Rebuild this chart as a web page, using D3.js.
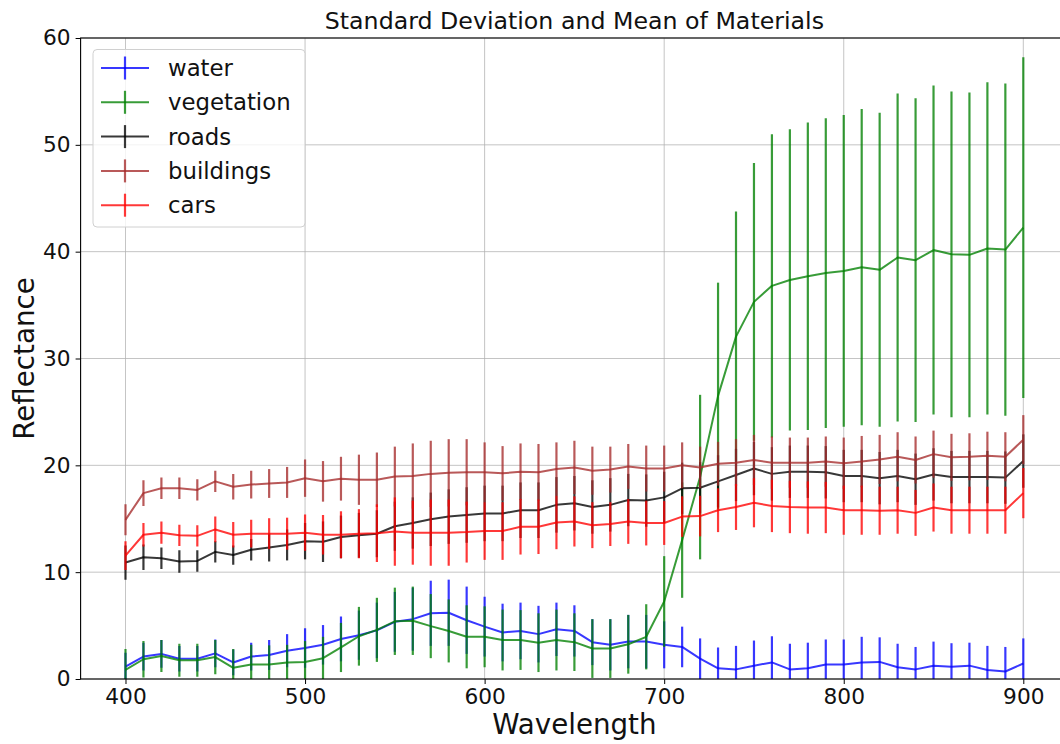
<!DOCTYPE html>
<html>
<head>
<meta charset="utf-8">
<script src="https://cdn.jsdelivr.net/npm/d3@7"></script>
<style>
  html, body { margin: 0; padding: 0; background: #fff; }
  svg { display: block; font-family: "DejaVu Sans", sans-serif; }
</style>
</head>
<body>
<svg id="chart" width="1060" height="744"></svg>
<script>
// Wavelength samples (nm)
const wavelengths = [400,410,420,430,440,450,460,470,480,490,500,510,520,530,540,550,560,570,580,590,600,
  610,620,630,640,650,660,670,680,690,700,710,720,730,740,750,760,770,780,790,800,
  810,820,830,840,850,860,870,880,890,900];

// Mean reflectance per material
const waterMean = [1.15,2.1,2.35,1.9,1.9,2.4,1.55,2.1,2.25,2.65,2.9,3.2,3.75,4.1,4.55,5.35,5.6,6.15,6.2,5.5,4.9,
  4.35,4.5,4.2,4.65,4.5,3.45,3.2,3.5,3.5,3.2,3.0,1.9,1.0,0.9,1.25,1.55,0.9,1.0,1.35,1.35,
  1.55,1.6,1.1,0.9,1.25,1.15,1.25,0.85,0.7,1.45];
const vegetationMean = [0.85,1.85,2.15,1.75,1.75,2.05,1.05,1.35,1.35,1.55,1.6,1.95,2.95,4.0,4.6,5.4,5.45,4.95,4.5,3.95,3.95,
  3.65,3.65,3.4,3.65,3.45,2.85,2.85,3.25,3.95,7.25,13.0,18.9,26.5,32.05,35.3,36.8,37.35,37.7,38.0,38.2,
  38.55,38.3,39.45,39.2,40.15,39.75,39.7,40.3,40.2,42.25];
const roadsMean = [10.9,11.4,11.3,11.0,11.05,11.9,11.6,12.1,12.3,12.55,12.9,12.85,13.3,13.45,13.6,14.3,14.6,14.95,15.2,15.35,15.5,
  15.5,15.8,15.8,16.3,16.45,16.1,16.3,16.75,16.7,17.0,17.85,17.9,18.5,19.1,19.7,19.2,19.4,19.4,19.35,19.0,
  19.0,18.8,19.0,18.7,19.15,18.9,18.9,18.9,18.85,20.4];
const buildingsMean = [14.9,17.4,17.85,17.85,17.7,18.5,18.0,18.2,18.3,18.4,18.8,18.5,18.75,18.65,18.65,18.95,19.0,19.2,19.3,19.35,19.35,
  19.25,19.4,19.35,19.65,19.8,19.5,19.6,19.9,19.7,19.7,20.0,19.8,20.15,20.25,20.5,20.25,20.25,20.25,20.35,20.2,
  20.35,20.55,20.8,20.5,21.05,20.75,20.8,20.9,20.8,22.4];
const carsMean = [11.55,13.5,13.7,13.45,13.4,14.0,13.5,13.6,13.6,13.6,13.7,13.5,13.5,13.6,13.65,13.8,13.7,13.7,13.7,13.75,13.85,
  13.85,14.25,14.25,14.65,14.75,14.4,14.5,14.75,14.6,14.6,15.2,15.25,15.8,16.1,16.5,16.2,16.1,16.05,16.05,15.8,
  15.8,15.75,15.8,15.55,16.05,15.8,15.8,15.8,15.8,17.4];

// Standard deviation per material
const waterStd = [1.3,1.3,1.3,1.2,1.2,1.3,1.2,1.3,1.4,1.55,1.85,1.85,2.1,2.3,2.6,2.8,2.95,3.05,3.1,3.15,2.8,
  2.7,2.65,2.65,2.5,2.4,2.15,2.4,2.5,2.5,2.2,1.9,1.9,1.95,2.2,2.35,2.45,2.4,2.4,2.35,2.35,
  2.4,2.3,2.2,2.1,2.25,2.2,2.15,2.25,2.3,2.35];
const vegetationStd = [1.95,1.7,1.5,1.55,1.55,1.6,1.75,1.85,1.8,1.65,1.95,2.0,2.3,2.75,3.0,3.15,3.2,3.0,2.95,2.95,2.85,
  2.85,2.8,2.75,2.85,2.7,2.75,2.75,2.75,3.05,4.25,5.4,7.7,10.6,11.7,13.0,14.2,14.1,14.4,14.5,14.6,
  14.8,14.7,15.35,15.15,15.4,15.25,15.2,15.55,15.55,15.95];
const roadsStd = [1.6,1.2,1.0,1.05,1.0,1.0,0.9,1.0,1.3,1.45,1.7,1.9,2.0,2.1,2.2,2.3,2.4,2.5,2.55,2.6,2.6,
  2.6,2.6,2.6,2.6,2.55,2.5,2.5,2.45,2.45,2.4,2.4,2.4,2.45,2.45,2.5,2.5,2.45,2.45,2.45,2.45,
  2.45,2.45,2.45,2.4,2.45,2.45,2.45,2.45,2.45,2.5];
const buildingsStd = [1.45,1.2,1.0,1.0,1.0,1.0,1.2,1.3,1.35,1.45,1.75,1.9,2.05,2.35,2.55,2.8,3.05,3.1,3.15,3.1,2.8,
  2.55,2.65,2.65,2.5,2.5,2.25,2.15,2.1,2.15,2.15,2.15,1.95,2.05,2.2,2.35,2.45,2.35,2.35,2.35,2.4,
  2.4,2.3,2.3,2.2,2.2,2.2,2.2,2.25,2.3,2.3];
const carsStd = [1.35,1.1,1.05,1.0,1.0,1.2,1.2,1.3,1.45,1.5,1.7,1.85,2.2,2.3,2.7,3.2,3.0,3.1,3.1,2.85,2.7,
  2.7,2.6,2.55,2.5,2.35,2.15,2.05,2.1,2.1,2.05,1.9,1.9,2.05,2.15,2.3,2.45,2.45,2.45,2.4,2.3,
  2.3,2.25,2.2,2.15,2.25,2.2,2.2,2.2,2.2,2.35];

const materials = ["water", "vegetation", "roads", "buildings", "cars"];
const colors = ["#0000ff", "#008000", "#000000", "#a52a2a", "#ff0000"];
const xTicks = [400, 500, 600, 700, 800, 900];
const yTicks = [0, 10, 20, 30, 40, 50, 60];

const seriesList = [
  { name: materials[0], color: colors[0], mean: waterMean, std: waterStd },
  { name: materials[1], color: colors[1], mean: vegetationMean, std: vegetationStd },
  { name: materials[2], color: colors[2], mean: roadsMean, std: roadsStd },
  { name: materials[3], color: colors[3], mean: buildingsMean, std: buildingsStd },
  { name: materials[4], color: colors[4], mean: carsMean, std: carsStd }
];

const svg = d3.select("#chart");
const W = 1060, H = 744;
const m = { left: 80.6, right: 1068.2, top: 38, bottom: 679 };
const alpha = 0.78;

svg.append("rect").attr("width", W).attr("height", H).attr("fill", "#fff");

const x = d3.scaleLinear().domain([375, 925]).range([m.left, m.right]);
const y = d3.scaleLinear().domain([0, 60]).range([m.bottom, m.top]);

svg.append("defs").append("clipPath").attr("id", "plotClip")
  .append("rect").attr("x", m.left).attr("y", m.top)
  .attr("width", m.right - m.left).attr("height", m.bottom - m.top);

// grid
const grid = svg.append("g").attr("stroke", "#b0b0b0").attr("stroke-width", 1).attr("stroke-opacity", 0.75);
xTicks.forEach(t => grid.append("line").attr("x1", x(t)).attr("x2", x(t)).attr("y1", m.top).attr("y2", m.bottom));
yTicks.forEach(t => grid.append("line").attr("x1", m.left).attr("x2", m.right).attr("y1", y(t)).attr("y2", y(t)));

// series: mean line plus vertical std bars
const plot = svg.append("g").attr("clip-path", "url(#plotClip)");
const line = d3.line().x((d, i) => x(wavelengths[i])).y(d => y(d));
seriesList.forEach(s => {
  const g = plot.append("g");
  g.append("path").datum(s.mean).attr("d", line)
    .attr("fill", "none").attr("stroke", s.color).attr("stroke-width", 2)
    .attr("stroke-opacity", alpha).attr("stroke-linejoin", "round");
  g.selectAll("line.bar").data(s.mean).enter().append("line")
    .attr("class", "bar")
    .attr("x1", (d, i) => x(wavelengths[i])).attr("x2", (d, i) => x(wavelengths[i]))
    .attr("y1", (d, i) => y(d + s.std[i])).attr("y2", (d, i) => y(d - s.std[i]))
    .attr("stroke", s.color).attr("stroke-width", 2.2).attr("stroke-opacity", alpha);
});

// axes
const xAxis = d3.axisBottom(x).tickValues(xTicks).tickSize(5).tickPadding(5);
const yAxis = d3.axisLeft(y).tickValues(yTicks).tickSize(5).tickPadding(5);
const gx = svg.append("g").attr("transform", `translate(0,${m.bottom})`).call(xAxis);
const gy = svg.append("g").attr("transform", `translate(${m.left},0)`).call(yAxis);
[gx, gy].forEach(g => {
  g.select(".domain").remove();
  g.selectAll(".tick line").attr("stroke", "#000").attr("stroke-width", 1);
  g.selectAll(".tick text").attr("fill", "#111").style("font-size", "21.7px")
    .style("font-family", "'DejaVu Sans', sans-serif");
});

// frame
svg.append("rect").attr("x", m.left).attr("y", m.top)
  .attr("width", m.right - m.left).attr("height", m.bottom - m.top)
  .attr("fill", "none").attr("stroke", "#000").attr("stroke-width", 1.1);

// labels
svg.append("text").attr("x", (m.left + m.right) / 2).attr("y", 29)
  .attr("text-anchor", "middle").style("font-size", "23.7px").attr("fill", "#111")
  .text("Standard Deviation and Mean of Materials");
svg.append("text").attr("x", (m.left + m.right) / 2).attr("y", 734)
  .attr("text-anchor", "middle").style("font-size", "27.7px").attr("fill", "#111")
  .text("Wavelength");
svg.append("text").attr("transform", `translate(34,${(m.top + m.bottom) / 2}) rotate(-90)`)
  .attr("text-anchor", "middle").style("font-size", "27.7px").attr("fill", "#111")
  .text("Reflectance");

// legend
const lg = svg.append("g");
lg.append("rect").attr("x", 93).attr("y", 49.5).attr("width", 212).attr("height", 177.5)
  .attr("rx", 4).attr("fill", "#fff").attr("fill-opacity", 0.8)
  .attr("stroke", "#d0d0d0").attr("stroke-width", 1);
seriesList.forEach((s, i) => {
  const cy = 68 + i * 34.3;
  lg.append("line").attr("x1", 101).attr("x2", 149).attr("y1", cy).attr("y2", cy)
    .attr("stroke", s.color).attr("stroke-width", 2).attr("stroke-opacity", alpha);
  lg.append("line").attr("x1", 125).attr("x2", 125).attr("y1", cy - 11.5).attr("y2", cy + 11.5)
    .attr("stroke", s.color).attr("stroke-width", 2.2).attr("stroke-opacity", alpha);
  lg.append("text").attr("x", 168).attr("y", cy + 8).style("font-size", "22.8px")
    .attr("fill", "#111").text(s.name);
});
</script>
</body>
</html>
